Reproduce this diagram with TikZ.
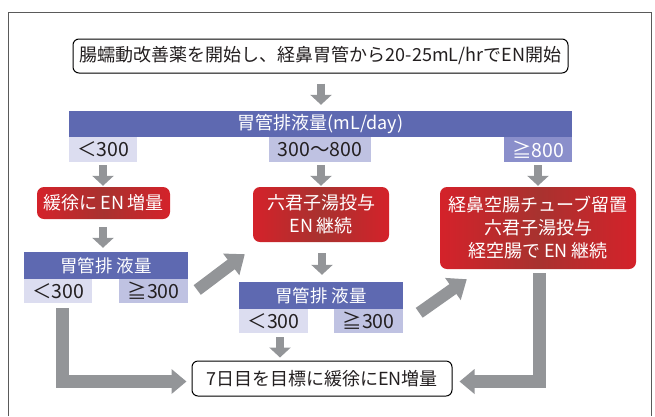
\documentclass[tikz,border=0pt]{standalone}
\usepackage{fontspec}
\setmainfont{Noto Sans CJK JP}
\usetikzlibrary{arrows.meta,calc}
\definecolor{barpurple}{RGB}{94,105,177}
\definecolor{lightlav}{RGB}{220,221,240}
\definecolor{midlav}{RGB}{191,194,226}
\definecolor{darklav}{RGB}{138,143,203}
\definecolor{redbright}{RGB}{212,34,42}
\definecolor{reddark}{RGB}{168,50,47}
\definecolor{arrowgray}{RGB}{147,149,152}
\definecolor{framegray}{RGB}{90,90,90}
\definecolor{txt}{RGB}{35,31,32}
\tikzset{
  whitebox/.style={draw=black, line width=1pt, rounded corners=6pt, fill=white, inner sep=0pt, text=txt, font=\fontsize{18}{22}\selectfont},
  purplebar/.style={fill=barpurple, inner sep=0pt, text=white},
  lablight/.style={fill=lightlav, inner sep=0pt, text=txt, font=\fontsize{19.5}{22}\selectfont},
  labmid/.style={fill=midlav, inner sep=0pt, text=txt, font=\fontsize{19.5}{22}\selectfont},
  labdark/.style={fill=darklav, inner sep=0pt, text=white, font=\fontsize{19.5}{22}\selectfont},
  redbox/.style={rounded corners=7pt, left color=redbright, right color=redbright, middle color=reddark, inner sep=0pt, text=white, align=center, font=\fontsize{18}{23}\selectfont},
  downarrow/.style={draw=arrowgray, line width=8pt, -{Triangle[width=21pt,length=10pt]}},
  diagarrow/.style={draw=arrowgray, line width=12pt, -{Triangle[width=26pt,length=17pt]}},
  bigarrow/.style={draw=arrowgray, line width=13pt, line join=miter, -{Triangle[width=24pt,length=15pt]}},
}
\begin{document}
\begin{tikzpicture}[x=1pt,y=-1pt]
\useasboundingbox (0,0) rectangle (655,416);
\draw[framegray, line width=1pt] (8,416) -- (8,12) -- (651,12) -- (651,416);

\node[whitebox, minimum width=495pt, minimum height=34pt] (top) at (320.5,56) {腸蠕動改善薬を開始し、経鼻胃管から20-25mL/hrでEN開始};
\node[purplebar, minimum width=503pt, minimum height=26pt, font=\fontsize{18}{20}\selectfont] (bar1) at (320.5,124) {胃管排液量(mL/day)};
\node[lablight, minimum width=68pt, minimum height=25pt] (l1a) at (103,149.5) {＜300};
\node[labmid, minimum width=102pt, minimum height=25pt] (l1b) at (320,149.5) {300〜800};
\node[labdark, minimum width=68pt, minimum height=25pt] (l1c) at (538,149.5) {≧800};

\node[redbox, minimum width=133pt, minimum height=32pt] (red1) at (103.5,203) {緩徐に\,EN\,増量};
\node[redbox, minimum width=136pt, minimum height=55pt] (red2) at (321,214.5) {六君子湯投与\\EN\,継続};
\node[redbox, minimum width=196pt, minimum height=82pt] (red3) at (538,228) {経鼻空腸チューブ留置\\六君子湯投与\\経空腸で EN 継続};

\node[purplebar, minimum width=164pt, minimum height=27pt, font=\fontsize{17.5}{20}\selectfont] (bar2) at (106,265.5) {胃管排\hspace{0.25em}液量};
\node[lablight, minimum width=68pt, minimum height=24pt] (l2a) at (58,291) {＜300};
\node[labmid, minimum width=69pt, minimum height=24pt] (l2b) at (153.5,291) {≧300};

\node[purplebar, minimum width=164pt, minimum height=27pt, font=\fontsize{17.5}{20}\selectfont] (bar3) at (321,295.5) {胃管排\hspace{0.25em}液量};
\node[lablight, minimum width=69pt, minimum height=24pt] (l3a) at (273.5,321) {＜300};
\node[labmid, minimum width=69pt, minimum height=24pt] (l3b) at (368.5,321) {≧300};

\node[whitebox, minimum width=260pt, minimum height=35pt] (bottom) at (322,378.5) {7日目を目標に緩徐にEN増量};

% small down arrows
\draw[downarrow] ([shift={(0.5,10)}]top.south) -- ([shift={(0.5,-6)}]bar1.north);
\draw[downarrow] ([shift={(0,3)}]l1a.south) -- ([shift={(0,-1)}]red1.north -| l1a.south);
\draw[downarrow] ([shift={(1,3)}]l1b.south) -- ([shift={(1,-1)}]red2.north -| l1b.south);
\draw[downarrow] ([shift={(0,3)}]l1c.south) -- ([shift={(0,-1)}]red3.north -| l1c.south);
\draw[downarrow] ([shift={(0,8)}]red1.south -| l1a.south) -- ([shift={(0,-4)}]bar2.north -| l1a.south);
\draw[downarrow] ([shift={(1,11)}]red2.south) -- ([shift={(1,-7)}]red2.south |- bar3.north);
\draw[downarrow] ([shift={(6.5,4)}]l3a.south) -- ([shift={(6.5,-3)}]l3a.south |- bottom.north);

% diagonal arrows
\draw[diagarrow] ([shift={(9,-1)}]l2b.east) -- ([shift={(-8,12)}]red2.south west);
\draw[diagarrow] ([shift={(16,4)}]l3b.north east) -- ([shift={(27,10)}]red3.south west);

% L-shaped arrows
\draw[bigarrow] ([shift={(4,5)}]l2a.south) |- ([shift={(-5,3)}]bottom.west);
\draw[bigarrow] ([shift={(1,4)}]red3.south) |- ([shift={(7,3)}]bottom.east);
\end{tikzpicture}
\end{document}
